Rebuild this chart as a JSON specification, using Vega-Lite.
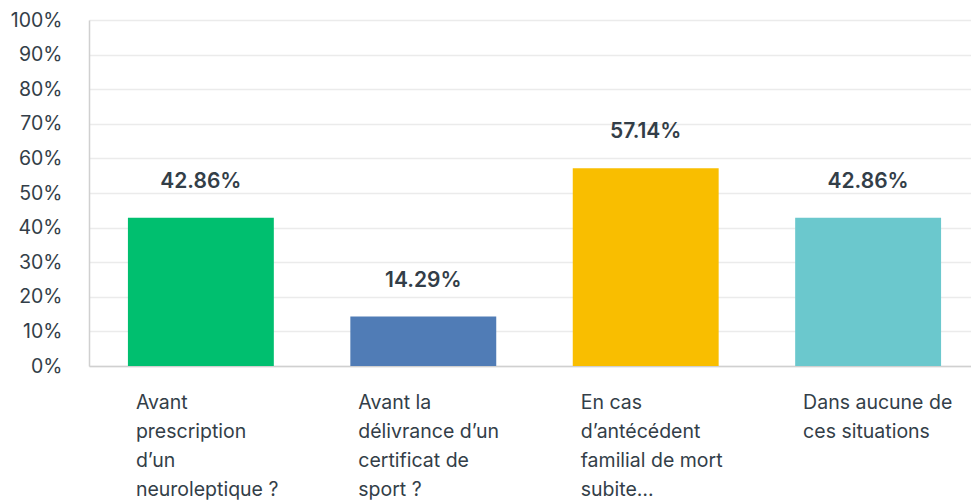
{
  "$schema": "https://vega.github.io/schema/vega-lite/v6.json",
  "autosize": {"type": "none"},
  "width": 882,
  "height": 346,
  "padding": {"left": 89, "top": 20, "right": 0, "bottom": 136},
  "background": "white",
  "data": {
    "values": [
      {"option": "Avant\nprescription\nd’un\nneuroleptique ?", "value": 0.4286, "color": "#00BF6F"},
      {"option": "Avant la\ndélivrance d’un\ncertificat de\nsport ?", "value": 0.1429, "color": "#507CB6"},
      {"option": "En cas\nd’antécédent\nfamilial de mort\nsubite…", "value": 0.5714, "color": "#F9BE00"},
      {"option": "Dans aucune de\nces situations", "value": 0.4286, "color": "#6BC8CD"}
    ]
  },
  "config": {
    "view": {"stroke": null},
    "font": "Inter"
  },
  "encoding": {
    "x": {
      "field": "option",
      "type": "nominal",
      "sort": null,
      "scale": {"range": [0, 891], "paddingInner": 0.344, "paddingOuter": 0.175},
      "axis": {
        "title": null,
        "labelAngle": 0,
        "labelAlign": "left",
        "labelBaseline": "top",
        "labelOffset": -65,
        "labelPadding": 27,
        "labelFontSize": 19.5,
        "labelLineHeight": 29,
        "labelColor": "#333E48",
        "labelExpr": "split(datum.label, '\\n')",
        "labelLimit": 0,
        "ticks": false,
        "domainColor": "#D0D0D0",
        "domainWidth": 1.5,
        "grid": false
      }
    },
    "y": {
      "field": "value",
      "type": "quantitative",
      "scale": {"domain": [0, 1], "nice": false},
      "axis": {
        "title": null,
        "values": [0, 0.1, 0.2, 0.3, 0.4, 0.5, 0.6, 0.7, 0.8, 0.9, 1],
        "format": ".0%",
        "labelFontSize": 19.5,
        "labelColor": "#333E48",
        "labelPadding": 27,
        "ticks": false,
        "domainColor": "#D0D0D0",
        "domainWidth": 1.5,
        "gridColor": "#EBEBEB",
        "gridWidth": 1.5
      }
    }
  },
  "layer": [
    {
      "mark": {"type": "bar"},
      "encoding": {
        "color": {"field": "color", "type": "nominal", "scale": null}
      }
    },
    {
      "mark": {"type": "text", "dy": -30, "baseline": "alphabetic", "fontSize": 21, "fontWeight": 600, "color": "#333E48"},
      "encoding": {
        "text": {"field": "value", "type": "quantitative", "format": ".2%"}
      }
    }
  ]
}
